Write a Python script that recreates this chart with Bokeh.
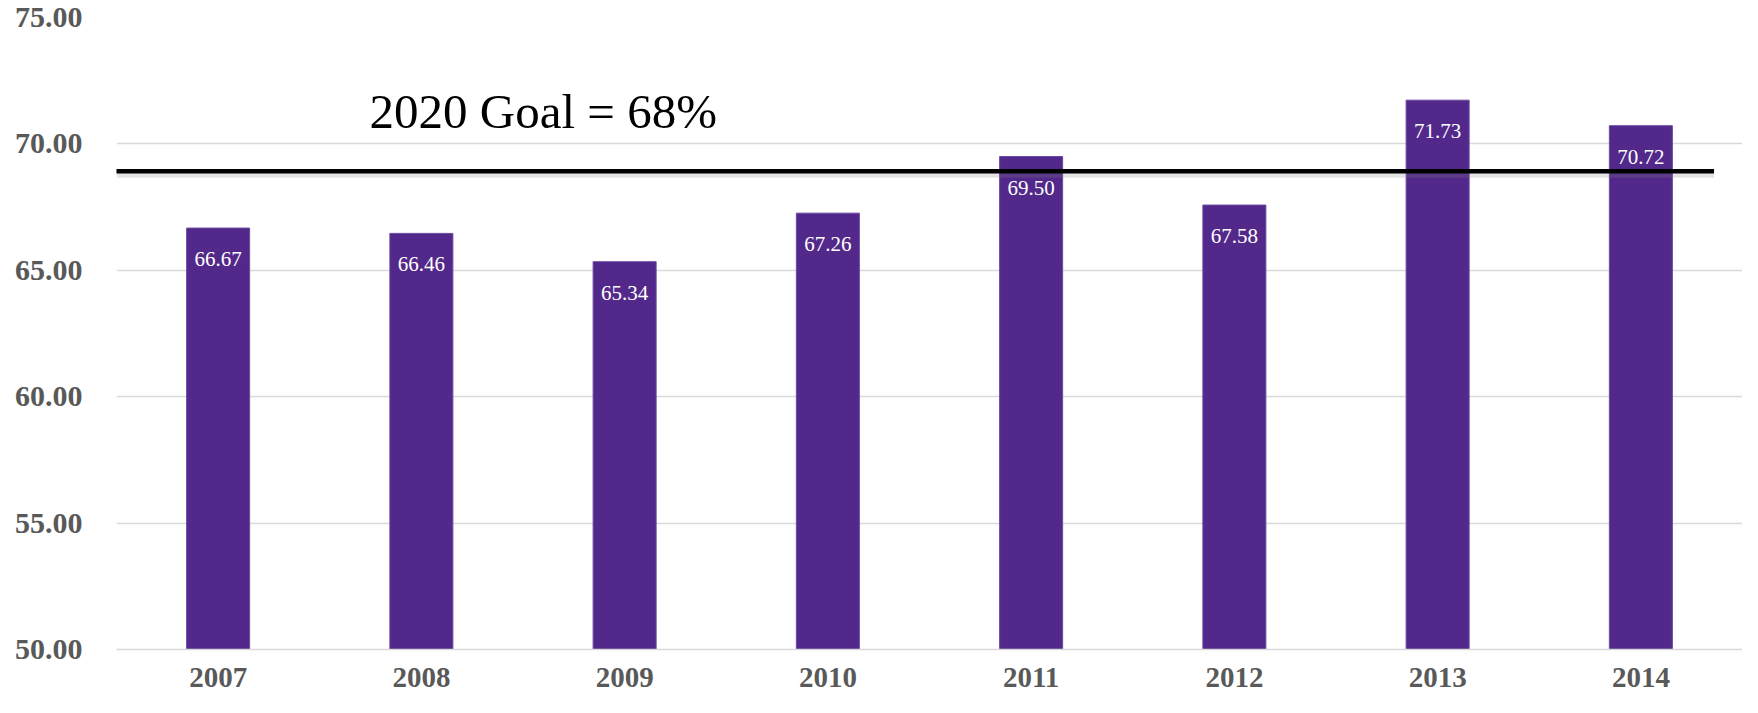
from bokeh.plotting import figure
from bokeh.models import ColumnDataSource, FixedTicker, NumeralTickFormatter, Range1d
from bokeh.core.properties import value
from bokeh.embed import file_html
from bokeh.resources import INLINE

years = ["2007", "2008", "2009", "2010", "2011", "2012", "2013", "2014"]
rates = [66.67, 66.46, 65.34, 67.26, 69.50, 67.58, 71.73, 70.72]
labels = ["66.67", "66.46", "65.34", "67.26", "69.50", "67.58", "71.73", "70.72"]
goal_level = 68.92
goal_text = "2020 Goal = 68%"
y_ticks = [50, 55, 60, 65, 70, 75]

xs = [i + 0.5 for i in range(len(years))]
src = ColumnDataSource(dict(x=xs, top=rates, lab=labels))

p = figure(width=1742, height=697, output_backend="svg", toolbar_location=None,
           x_range=Range1d(0, len(years)), y_range=Range1d(50, 75),
           min_border_left=116, min_border_right=0, min_border_top=17, min_border_bottom=48)
p.outline_line_color = None
p.background_fill_color = "white"
p.border_fill_color = "white"

p.xgrid.grid_line_color = None
p.ygrid.grid_line_color = "#d9d9d9"
p.ygrid.grid_line_width = 1.5

p.yaxis.ticker = FixedTicker(ticks=y_ticks)
p.yaxis.formatter = NumeralTickFormatter(format="0.00")
p.yaxis.axis_line_color = None
p.yaxis.major_tick_line_color = None
p.yaxis.minor_tick_line_color = None
p.yaxis.major_label_text_font = "Liberation Serif"
p.yaxis.major_label_text_font_style = "bold"
p.yaxis.major_label_text_font_size = "30px"
p.yaxis.major_label_text_color = "#595959"
p.yaxis.major_label_standoff = 28

p.xaxis.ticker = FixedTicker(ticks=xs)
p.xaxis.major_label_overrides = {x: y for x, y in zip(xs, years)}
p.xaxis.axis_line_color = "#d9d9d9"
p.xaxis.axis_line_width = 1.5
p.xaxis.major_tick_line_color = None
p.xaxis.minor_tick_line_color = None
p.xaxis.major_label_text_font = "Liberation Serif"
p.xaxis.major_label_text_font_style = "bold"
p.xaxis.major_label_text_font_size = "29px"
p.xaxis.major_label_text_color = "#595959"
p.xaxis.major_label_standoff = 12

p.vbar(x="x", top="top", bottom=50, width=0.31, source=src,
       fill_color="#52288A", line_color="#6a48a0", line_width=1)

# goal line with soft shadow
p.line(x=[0, 7.86], y=[goal_level - 0.12, goal_level - 0.12], line_color="#808080",
       line_alpha=0.22, line_width=7)
p.line(x=[-0.01, 7.86], y=[goal_level, goal_level], line_color="black", line_width=4.5)

p.text(x="x", y="top", text="lab", source=src, text_color="white",
       text_font=value("Liberation Serif"), text_font_size="21px",
       text_align="center", text_baseline="top", y_offset=24)

p.text(x=[1.245], y=[71.3], text=[goal_text], text_color="black",
       text_font=value("Liberation Serif"), text_font_size="49px",
       text_align="left", text_baseline="middle")

open("out.html", "w").write(file_html(p, INLINE))
